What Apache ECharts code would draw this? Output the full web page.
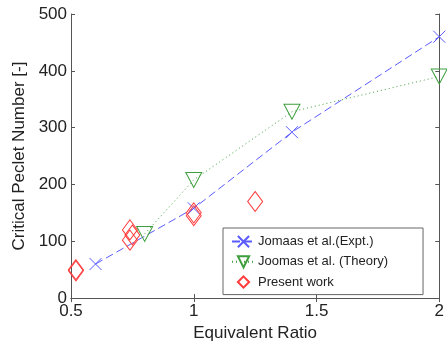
<!DOCTYPE html>
<html><head><meta charset="utf-8">
<script src="https://cdn.jsdelivr.net/npm/echarts@6/dist/echarts.min.js"></script>
<style>html,body{margin:0;padding:0;background:#fff}#c{width:447px;height:347px}</style>
</head><body><div id="c"></div>
<script>
var exptX = [0.6, 1.0, 1.4, 2.0];
var exptY = [60, 158, 292, 460];
var theoryX = [0.8, 1.0, 1.4, 2.0];
var theoryY = [113, 208, 328, 390];
var presentX = [0.52, 0.52, 0.74, 0.75, 0.74, 1.0, 1.0, 1.25];
var presentY = [50, 48, 120, 111, 102, 150, 145, 170];
var xTicks = [0.5, 1, 1.5, 2];
var yTicks = [0, 100, 200, 300, 400, 500];
var names = ['Jomaas et al.(Expt.)', 'Joomas et al. (Theory)', 'Present work'];

function pairs(xs, ys) { return xs.map(function (x, i) { return [x, ys[i]]; }); }

var BLUE = '#5a5aff', GREEN = '#3f9f3f', RED = '#ff3b3b', AX = '#555';
var FONT = 'Liberation Sans, Arial, sans-serif';
var xSym = 'path://M0,0L10,10M10,0L0,10';

var chart = echarts.init(document.getElementById('c'), null, {renderer: 'canvas'});
function baseAxis(extra) {
  return Object.assign({
    axisLine: {show: true, lineStyle: {color: AX, width: 1}},
    axisTick: {show: true, inside: true, length: 4, lineStyle: {color: AX}},
    splitLine: {show: false}
  }, extra);
}
chart.setOption({
  animation: false,
  backgroundColor: '#fff',
  grid: {left: 71, right: 6, top: 14, bottom: 44, containLabel: false},
  xAxis: [
    baseAxis({type: 'value', min: xTicks[0], max: xTicks[xTicks.length - 1], interval: 0.5,
      name: 'Equivalent Ratio', nameLocation: 'middle', nameGap: 22,
      nameTextStyle: {fontFamily: FONT, fontSize: 17, color: '#222'},
      axisLabel: {fontFamily: FONT, fontSize: 17, color: '#222', margin: 5,
        formatter: function (v) { return String(v); }}}),
    baseAxis({type: 'value', position: 'top', min: xTicks[0], max: xTicks[xTicks.length - 1], interval: 0.5,
      axisLabel: {show: false}})
  ],
  yAxis: [
    baseAxis({type: 'value', min: yTicks[0], max: yTicks[yTicks.length - 1], interval: 100,
      name: 'Critical Peclet Number [-]', nameLocation: 'middle', nameGap: 37,
      nameTextStyle: {fontFamily: FONT, fontSize: 17, color: '#222'},
      axisLabel: {fontFamily: FONT, fontSize: 17, color: '#222', margin: 4}}),
    baseAxis({type: 'value', position: 'right', min: yTicks[0], max: yTicks[yTicks.length - 1], interval: 100,
      axisLabel: {show: false}})
  ],
  legend: {
    orient: 'vertical', left: 223, top: 228,
    padding: [7, 35, 6, 8], itemGap: 7, itemWidth: 23, itemHeight: 14,
    borderColor: '#666', borderWidth: 1, backgroundColor: '#fff',
    textStyle: {fontFamily: FONT, fontSize: 13, color: '#222', padding: [0, 0, 0, -2]},
    data: names
  },
  series: [
    {name: names[0], type: 'line', data: pairs(exptX, exptY), clip: false,
      symbol: xSym, symbolSize: 12,
      lineStyle: {color: BLUE, width: 1, type: [8, 4]},
      itemStyle: {color: 'transparent', borderColor: BLUE, borderWidth: 1}, z: 3},
    {name: names[1], type: 'line', data: pairs(theoryX, theoryY), clip: false,
      symbol: 'triangle', symbolRotate: 180, symbolSize: [16, 15],
      lineStyle: {color: GREEN, width: 1, type: [1, 3]},
      itemStyle: {color: 'transparent', borderColor: GREEN, borderWidth: 1}, z: 3},
    {name: names[2], type: 'line', data: pairs(presentX, presentY), clip: false,
      symbol: 'diamond', symbolSize: [15, 20], showAllSymbol: true,
      lineStyle: {color: RED, width: 0, opacity: 0},
      itemStyle: {color: 'transparent', borderColor: RED, borderWidth: 1, opacity: 1}, z: 4}
  ]
});
</script></body></html>
